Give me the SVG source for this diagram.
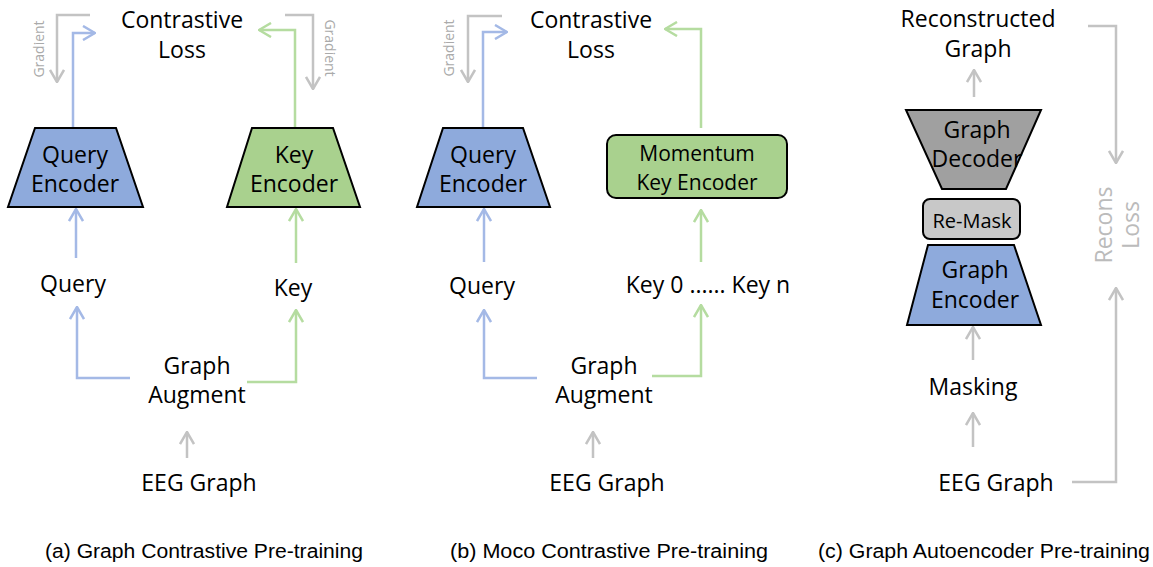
<svg xmlns="http://www.w3.org/2000/svg" width="1153" height="567" viewBox="0 0 1153 567">
<defs>
<style>
.t{font-family:"Comic Sans MS","Open Sans","DejaVu Sans",sans-serif;font-size:23px;fill:#000;text-anchor:middle}
.g{font-family:"Comic Sans MS","Open Sans","DejaVu Sans",sans-serif;font-size:14px;fill:#aaa;text-anchor:middle}
.r{font-family:"Comic Sans MS","Open Sans","DejaVu Sans",sans-serif;font-size:23px;fill:#bbb;text-anchor:middle}
.cap{font-family:"Liberation Sans",Arial,sans-serif;font-size:20px;fill:#000;text-anchor:middle}
.blue{fill:#8eaadc;stroke:#000;stroke-width:2}
.green{fill:#a9d18e;stroke:#000;stroke-width:2}
.grey{fill:#a0a0a0;stroke:#000;stroke-width:2}
.lb{fill:none;stroke:#a4b9e6;stroke-width:2.5;marker-end:url(#mb)}
.lg{fill:none;stroke:#b5dca0;stroke-width:2.5;marker-end:url(#mg)}
.lk{fill:none;stroke:#c3c3c3;stroke-width:2.5;marker-end:url(#mk)}
</style>
<marker id="mb" viewBox="0 0 14 16" refX="13" refY="8" markerWidth="14" markerHeight="16" markerUnits="userSpaceOnUse" orient="auto"><path d="M1,1 L13,8 L1,15" fill="none" stroke="#a4b9e6" stroke-width="2.5"/></marker>
<marker id="mg" viewBox="0 0 14 16" refX="13" refY="8" markerWidth="14" markerHeight="16" markerUnits="userSpaceOnUse" orient="auto"><path d="M1,1 L13,8 L1,15" fill="none" stroke="#b5dca0" stroke-width="2.5"/></marker>
<marker id="mk" viewBox="0 0 14 16" refX="13" refY="8" markerWidth="14" markerHeight="16" markerUnits="userSpaceOnUse" orient="auto"><path d="M1,1 L13,8 L1,15" fill="none" stroke="#c3c3c3" stroke-width="2.5"/></marker>
</defs>
<rect width="1153" height="567" fill="#fff"/>

<g id="connectors">
  <path class="lb" d="M73,128 V33 H95"/>
  <path class="lg" d="M295,128 V30 H259"/>
  <path class="lk" d="M90,15 H57 V82"/>
  <path class="lk" d="M285,15 H313 V89"/>
  <path class="lb" d="M76,258 V209"/>
  <path class="lg" d="M296,263 V209"/>
  <path class="lb" d="M130,378 H77 V307"/>
  <path class="lg" d="M247,382 H296 V310"/>
  <path class="lk" d="M187,458 V432"/>
  <path class="lb" d="M483,128 V32 H507"/>
  <path class="lg" d="M701,128 V29 H665"/>
  <path class="lk" d="M502,16 H468 V82"/>
  <path class="lb" d="M484,262 V209"/>
  <path class="lg" d="M701,262 V210"/>
  <path class="lb" d="M537,378 H484 V310"/>
  <path class="lg" d="M652,376 H701 V305"/>
  <path class="lk" d="M593,458 V432"/>
  <path class="lk" d="M974,97 V70"/>
  <path class="lk" d="M973,360 V327"/>
  <path class="lk" d="M973,447 V413"/>
  <path class="lk" d="M1072,482 H1116 V288"/>
  <path class="lk" d="M1088,26 H1116 V163"/>
</g>

<g id="contrastive-loss-a">
  <text class="t" x="182" y="28">Contrastive</text>
  <text class="t" x="182" y="58">Loss</text>
</g>
<g id="gradient-a1"><text class="g" transform="translate(44,49) rotate(-90)">Gradient</text></g>
<g id="gradient-a2"><text class="g" transform="translate(325,48) rotate(90)">Gradient</text></g>
<g id="query-encoder-a">
  <polygon class="blue" points="35,128 116,128 143,207 8,207"/>
  <text class="t" x="75" y="163">Query</text>
  <text class="t" x="75" y="192">Encoder</text>
</g>
<g id="key-encoder-a">
  <polygon class="green" points="252,128 333,128 360,207 227,207"/>
  <text class="t" x="294" y="163">Key</text>
  <text class="t" x="294" y="192">Encoder</text>
</g>
<g id="query-a"><text class="t" x="73" y="292">Query</text></g>
<g id="key-a"><text class="t" x="293" y="296">Key</text></g>
<g id="augment-a">
  <text class="t" x="197" y="374">Graph</text>
  <text class="t" x="197" y="403">Augment</text>
</g>
<g id="eeg-a"><text class="t" x="199" y="491">EEG Graph</text></g>

<g id="contrastive-loss-b">
  <text class="t" x="591" y="28">Contrastive</text>
  <text class="t" x="591" y="58">Loss</text>
</g>
<g id="gradient-b"><text class="g" transform="translate(454,48) rotate(-90)">Gradient</text></g>
<g id="query-encoder-b">
  <polygon class="blue" points="443,128 523,128 550,207 417,207"/>
  <text class="t" x="483" y="163">Query</text>
  <text class="t" x="483" y="192">Encoder</text>
</g>
<g id="momentum-b">
  <rect class="green" x="607" y="135" width="180" height="63" rx="9"/>
  <text class="t" x="697" y="161" style="font-size:21px">Momentum</text>
  <text class="t" x="697" y="190" style="font-size:21px">Key Encoder</text>
</g>
<g id="query-b"><text class="t" x="482" y="294">Query</text></g>
<g id="keys-b"><text class="t" x="708" y="293">Key 0 ...... Key n</text></g>
<g id="augment-b">
  <text class="t" x="604" y="374">Graph</text>
  <text class="t" x="604" y="403">Augment</text>
</g>
<g id="eeg-b"><text class="t" x="607" y="491">EEG Graph</text></g>

<g id="reconstructed-c">
  <text class="t" x="978" y="27">Reconstructed</text>
  <text class="t" x="978" y="57">Graph</text>
</g>
<g id="decoder-c">
  <polygon class="grey" points="906,110 1041,110 1006,189 942,189"/>
  <text class="t" x="977" y="138">Graph</text>
  <text class="t" x="977" y="167">Decoder</text>
</g>
<g id="remask-c">
  <rect x="923" y="199" width="97" height="40" rx="7" fill="#c8c8c8" stroke="#000" stroke-width="2"/>
  <text class="t" x="972" y="228" style="font-size:20px">Re-Mask</text>
</g>
<g id="encoder-c">
  <polygon class="blue" points="928,245 1014,245 1041,325 907,325"/>
  <text class="t" x="975" y="278">Graph</text>
  <text class="t" x="975" y="308">Encoder</text>
</g>
<g id="masking-c"><text class="t" x="973" y="395">Masking</text></g>
<g id="eeg-c"><text class="t" x="996" y="491">EEG Graph</text></g>
<g id="recons-loss-c">
  <text class="r" transform="translate(1112,225) rotate(-90)">Recons</text>
  <text class="r" transform="translate(1139,225) rotate(-90)">Loss</text>
</g>

<g id="captions">
  <text class="cap" x="204" y="558" textLength="318" lengthAdjust="spacingAndGlyphs">(a) Graph Contrastive Pre-training</text>
  <text class="cap" x="609" y="558" textLength="318" lengthAdjust="spacingAndGlyphs">(b) Moco Contrastive Pre-training</text>
  <text class="cap" x="984" y="558" textLength="332" lengthAdjust="spacingAndGlyphs">(c) Graph Autoencoder Pre-training</text>
</g>
</svg>
